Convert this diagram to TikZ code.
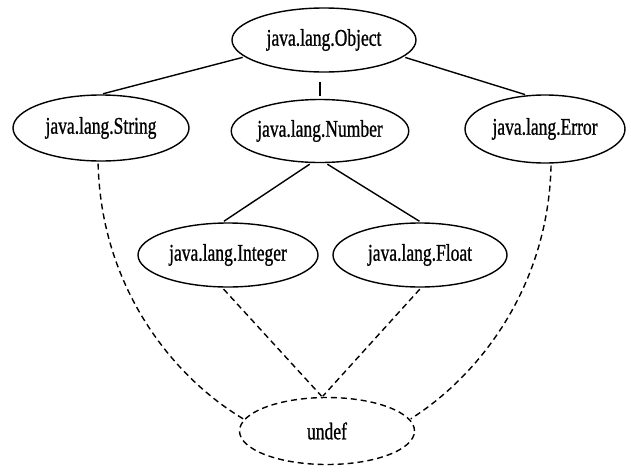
\documentclass[tikz,border=0pt]{standalone}
\usepackage{fontspec}
\setmainfont{Liberation Serif}[FakeStretch=0.73,FakeBold=0.8]
\usetikzlibrary{shapes}

\begin{document}
\begin{tikzpicture}[x=1pt, y=-1pt]
        \tikzstyle{cls} = [ellipse, draw, line width=1.4pt, inner sep=0pt, text centered, font=\fontsize{24}{28}\selectfont]
        \tikzstyle{sub} = [line width=1.4pt, shorten <=2pt, shorten >=2pt]
        \tikzstyle{undef} = [dashed, line width=1.4pt, dash pattern=on 6pt off 4pt, shorten <=2pt, shorten >=1pt]
        \useasboundingbox (0,0) rectangle (631,472);
        \node (obj) [cls, minimum width=184pt, minimum height=64pt] at (324,40) {java.lang.Object};
        \node (str) [cls, minimum width=176pt, minimum height=66pt] at (101,128) {java.lang.String};
        \node (num) [cls, minimum width=175pt, minimum height=63pt] at (320,131) {java.lang.Number};
        \node (err) [cls, minimum width=160pt, minimum height=68pt] at (545,129) {java.lang.Error};
        \node (int) [cls, minimum width=180pt, minimum height=64pt] at (228,255) {java.lang.Integer};
        \node (flt) [cls, minimum width=174pt, minimum height=64pt] at (420,255) {java.lang.Float};
        \node (bot) [cls, dashed, dash pattern=on 6pt off 4pt, minimum width=175pt, minimum height=67pt] at (327,431) {undef};
        \draw[sub] (obj.192)--(str.north);
        \draw[sub, shorten <=9pt, shorten >=3pt] (obj.south -| num.north)--(num.north);
        \draw[sub] (obj.-12)--(err.118);
        \draw[sub] (num.-105)--(int.100); \draw[sub] (num.-80)--(flt.88);
        \draw[undef] (int.-100)--(bot.98); \draw[undef] (flt.-88)--(bot.98);
        \draw[undef] (str.265) .. controls +(3,125) and +(-72,-43) .. (bot.172);
        \draw[undef] (err.-80) .. controls +(-3,125) and +(68,-43) .. (bot.8);
    \end{tikzpicture}
\end{document}
